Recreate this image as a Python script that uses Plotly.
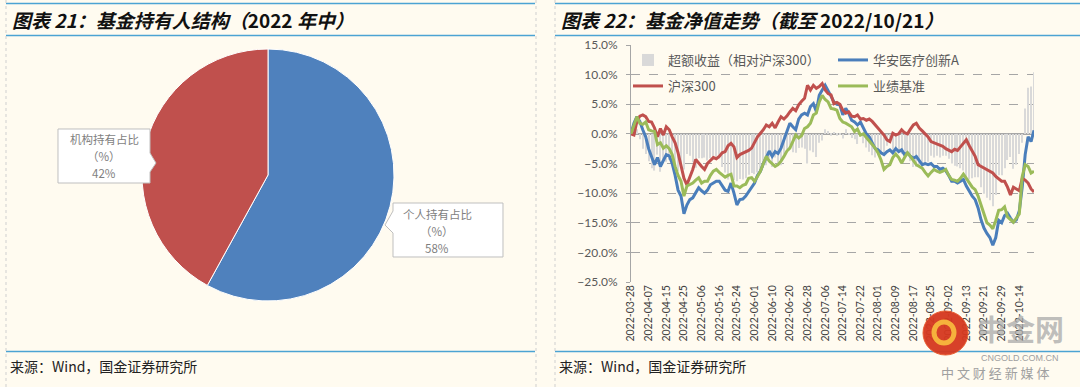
import plotly.graph_objects as go
import pandas as pd

W, H = 1080, 387
BG = "#FFFBF0"

# ---------------- data: left pie ----------------
PIE_LABELS = ["个人持有占比（%）", "机构持有占比（%）"]
PIE_VALUES = [58, 42]
PIE_COLORS = ["#4F81BD", "#C0504D"]

# ---------------- data: right line chart ----------------
HOLIDAYS = ["2022-04-04", "2022-04-05", "2022-05-02", "2022-05-03", "2022-05-04",
            "2022-06-03", "2022-09-12", "2022-10-03", "2022-10-04", "2022-10-05",
            "2022-10-06", "2022-10-07"]
DATES = [d.strftime("%Y-%m-%d") for d in pd.bdate_range("2022-03-28", "2022-10-21")
         if d.strftime("%Y-%m-%d") not in HOLIDAYS]

TICK_LABELS = ["2022-03-28", "2022-04-07", "2022-04-15", "2022-04-25", "2022-05-06",
               "2022-05-16", "2022-05-24", "2022-06-01", "2022-06-10", "2022-06-20",
               "2022-06-28", "2022-07-06", "2022-07-14", "2022-07-22", "2022-08-01",
               "2022-08-09", "2022-08-17", "2022-08-25", "2022-09-02", "2022-09-13",
               "2022-09-21", "2022-09-29", "2022-10-14"]

FUND = [0.0, 1.8, 2.9, 2.1, 0.7, -0.5, -2.5, -3.8, -5.2, -4.0,
        -5.5, -4.5, -3.5, -3.7, -5.0, -7.0, -9.5, -10.5, -13.5, -12.0,
        -11.1, -10.8, -10.0, -9.1, -9.6, -10.0, -9.5, -8.6, -8.3, -8.0,
        -8.0, -8.8, -9.5, -9.7, -8.3, -10.0, -12.0, -11.1, -11.0, -10.5,
        -9.7, -9.0, -8.3, -7.0, -6.3, -5.0, -3.8, -2.9, -3.8, -3.0,
        -3.3, -2.4, -1.0, 0.4, 1.8, 1.2, 0.7, 2.5, 3.2, 3.5,
        3.2, 4.6, 5.1, 3.8, 6.5, 7.4, 8.2, 7.3, 6.3, 5.4,
        5.0, 4.9, 3.2, 4.3, 3.5, 2.3, 2.0, 1.5, 2.0, 1.0,
        0.0, -0.5, -1.5, -2.5, -2.7, -3.2, -3.5, -3.0, -2.7, -3.2,
        -2.5, -3.0, -2.7, -3.5, -3.2, -3.8, -4.1, -3.8, -4.5, -5.2,
        -5.0, -5.2, -5.0, -5.5, -5.5, -6.0, -5.8, -6.2, -7.0, -8.0,
        -8.0, -8.3, -8.0, -7.7, -8.8, -9.7, -10.5, -11.1, -12.5, -14.5,
        -15.9, -16.8, -17.5, -18.8, -17.5, -14.6, -15.0, -13.8, -13.4, -14.2,
        -14.9, -14.5, -13.0, -9.0, -3.5, -0.5, -1.3, 0.6]

HS300 = [0.0, -0.2, 2.1, 3.0, 3.2, 2.9, 2.1, 2.0, 1.0, -0.5,
         0.9, -0.2, 1.2, 0.7, -0.5, -1.5, -3.2, -5.5, -7.5, -8.6,
         -7.4, -6.0, -4.3, -5.0, -5.5, -6.0, -5.0, -4.5, -4.0, -4.2,
         -3.8, -3.2, -3.0, -2.0, -1.6, -2.2, -4.0, -3.5, -3.3, -3.0,
         -2.8, -2.4, -1.5, -0.5, 0.1, 0.7, 1.5, 1.2, 1.8, 1.0,
         2.0, 2.9, 2.5, 3.0, 3.7, 4.3, 3.9, 4.9, 5.5, 6.0,
         8.2, 7.4, 8.2, 7.7, 8.0, 8.5, 7.4, 6.8, 6.6, 5.1,
         5.3, 5.0, 4.0, 3.5, 3.7, 3.0, 2.9, 3.2, 2.5, 2.6,
         2.3, 2.5, 2.1, 1.5, 0.9, 0.3, -0.2, -1.0, -1.3, 0.1,
         -0.2, 0.0, 0.7, 0.2, 0.0, 0.8, 1.5, 1.8, 1.0, 0.5,
         0.0, -0.5, -1.3, -1.5, -1.8, -2.0, -2.1, -2.5, -2.8, -3.0,
         -2.6, -2.8, -2.2, -1.5, -1.0, -2.0, -3.0, -3.8, -5.2, -5.5,
         -5.8, -6.0, -6.3, -6.6, -7.2, -7.6, -8.0, -8.0, -9.0, -10.3,
         -9.0, -9.3, -9.6, -7.5, -7.8, -8.3, -9.3, -9.8]

BENCH = [0.0, 1.5, 2.9, 1.8, 1.6, 2.0, 0.7, 0.5, 0.4, -1.8,
         -1.5, -2.4, -2.0, -2.5, -3.5, -5.5, -7.0, -8.0, -10.5, -8.8,
         -8.5, -8.3, -7.8, -7.4, -8.3, -8.0, -8.0, -7.0, -6.3, -6.0,
         -6.5, -6.9, -7.3, -7.0, -6.8, -8.8, -8.8, -9.1, -8.7, -8.5,
         -7.5, -7.4, -8.0, -7.2, -6.3, -5.0, -3.8, -4.6, -5.0, -5.5,
         -5.2, -4.6, -3.8, -2.9, -2.4, -1.3, -0.2, -0.7, -0.3, 0.9,
         1.2, 1.8, 3.2, 3.5, 5.4, 6.5, 5.8, 5.4, 4.3, 4.2,
         4.0, 2.6, 2.0, 1.8, 1.5, 1.2, 0.4, 0.8, -0.2, 0.0,
         -0.6, -1.3, -1.8, -2.4, -3.2, -4.4, -6.0, -5.5, -5.2, -4.0,
         -3.4, -4.0, -4.9, -4.0, -3.2, -3.8, -4.5, -5.2, -5.5, -5.8,
         -6.5, -7.1, -6.5, -6.0, -6.3, -6.5, -6.3, -6.0, -7.0, -7.7,
         -7.8, -8.0, -7.5, -6.8, -7.5, -8.3, -9.0, -9.4, -10.5, -12.0,
         -13.5, -15.0, -15.4, -16.0, -14.6, -12.9, -12.8, -12.3, -14.0, -14.5,
         -14.9, -14.2, -13.5, -7.2, -5.2, -5.5, -6.6, -6.3]

EXCESS = [0.0, 2.0, 0.8, -0.9, -2.5, -3.4, -4.6, -5.8, -6.2, -3.5,
          -6.4, -4.3, -4.7, -4.4, -4.5, -5.5, -6.3, -5.0, -6.0, -3.4,
          -3.7, -4.8, -5.7, -4.1, -4.1, -4.0, -4.5, -4.1, -4.3, -3.8,
          -4.2, -5.6, -6.5, -7.7, -6.7, -7.8, -8.0, -7.6, -7.7, -7.5,
          -6.9, -6.6, -6.8, -6.5, -6.4, -5.7, -5.3, -4.1, -5.6, -4.0,
          -5.3, -5.3, -3.5, -2.6, -1.9, -3.1, -3.2, -2.4, -2.3, -2.5,
          -5.0, -2.8, -3.1, -3.9, -1.5, -1.1, 0.8, 0.5, -0.3, 0.3,
          -0.3, -0.1, -0.8, 0.8, -0.2, -0.7, -0.9, -1.7, -0.5, -1.6,
          -2.3, -3.0, -3.6, -4.0, -3.6, -3.5, -3.3, -2.0, -1.4, -3.3,
          -2.3, -3.0, -3.4, -3.7, -3.2, -4.6, -5.6, -5.6, -5.5, -5.7,
          -5.0, -4.7, -3.7, -4.0, -3.7, -4.0, -3.7, -3.7, -4.2, -5.0,
          -5.4, -5.5, -5.8, -6.2, -7.8, -7.7, -7.5, -7.3, -7.3, -9.0,
          -10.1, -10.8, -11.2, -12.2, -10.3, -7.0, -7.0, -5.8, -4.4, -3.9,
          -5.9, -5.2, -3.4, -1.5, 4.3, 7.8, 8.0, 10.4]

SERIES_NAMES = ["超额收益（相对沪深300）", "华安医疗创新A", "沪深300", "业绩基准"]
SERIES_COLORS = ["#D9D9D9", "#4A7EBB", "#C0504D", "#9BBB59"]

assert len(DATES) == len(FUND) == len(HS300) == len(BENCH) == len(EXCESS)


def px(x):
    return x / W


def py(y):
    return 1 - y / H


CJK = "Noto Sans CJK SC"
LAT = "Lato, Noto Sans CJK SC"

fig = go.Figure()

# ---- pie ----
PC_X, PC_Y, PR = 268, 175, 126
fig.add_trace(go.Pie(
    values=PIE_VALUES, labels=PIE_LABELS, sort=False, direction="clockwise", rotation=0,
    marker=dict(colors=PIE_COLORS, line=dict(color="#FFFFFF", width=1)),
    textinfo="none", hoverinfo="label+value", showlegend=False,
    domain=dict(x=[px(PC_X - PR), px(PC_X + PR)], y=[py(PC_Y + PR), py(PC_Y - PR)]),
))

# ---- line chart ----
fig.add_trace(go.Bar(x=DATES, y=EXCESS, name=SERIES_NAMES[0],
                     marker=dict(color=SERIES_COLORS[0], line=dict(width=0)), legend="legend"))
fig.add_trace(go.Scatter(x=DATES, y=FUND, name=SERIES_NAMES[1], mode="lines",
                         line=dict(color=SERIES_COLORS[1], width=3), legend="legend2"))
fig.add_trace(go.Scatter(x=DATES, y=HS300, name=SERIES_NAMES[2], mode="lines",
                         line=dict(color=SERIES_COLORS[2], width=3), legend="legend3"))
fig.add_trace(go.Scatter(x=DATES, y=BENCH, name=SERIES_NAMES[3], mode="lines",
                         line=dict(color=SERIES_COLORS[3], width=3), legend="legend4"))

GRID = "#A6A6A6"
fig.update_layout(
    width=W, height=H, margin=dict(l=0, r=0, t=0, b=0, autoexpand=False),
    paper_bgcolor=BG, plot_bgcolor="rgba(0,0,0,0)",
    bargap=0.62,
    xaxis=dict(type="category", domain=[px(631), px(1034)], range=[0, len(DATES) - 1],
               tickmode="array", tickvals=TICK_LABELS, ticktext=TICK_LABELS, automargin=False,
               tickangle=-90, tickfont=dict(family=LAT, size=10.5, color="#404040"),
               showgrid=False, showline=False, ticks="", zeroline=False),
    yaxis=dict(domain=[py(282), py(45)], range=[-25, 15], dtick=5, tick0=0, automargin=False,
               tickformat=".1f", ticksuffix="%",
               tickfont=dict(family=LAT, size=12, color="#595959"),
               showgrid=True, gridcolor=GRID, griddash="dash", gridwidth=1,
               zeroline=True, zerolinecolor=GRID, zerolinewidth=1.5,
               showline=True, linecolor=GRID, linewidth=1,
               ticks="outside", ticklen=4, tickcolor=GRID, ticklabelstandoff=6),
)

leg_common = dict(xanchor="left", yanchor="middle", bgcolor="rgba(0,0,0,0)",
                  font=dict(family=CJK, size=13, color="#595959"), itemwidth=30)
fig.update_layout(
    legend=dict(x=px(628), y=py(60), **leg_common),
    legend2=dict(x=px(833), y=py(60), **leg_common),
    legend3=dict(x=px(628), y=py(86), **leg_common),
    legend4=dict(x=px(833), y=py(86), **leg_common),
)

# ---- frame lines ----
BLUE_LINE = "#4BA3D3"
shapes = []
for (x0, x1) in [(6, 535), (555, 1080)]:
    for yy in [3.5, 35.5, 351.5]:
        shapes.append(dict(type="line", xref="paper", yref="paper", x0=px(x0), x1=px(x1),
                           y0=py(yy), y1=py(yy), line=dict(color=BLUE_LINE, width=1.5)))
for xx in [6, 536, 555]:
    shapes.append(dict(type="line", xref="paper", yref="paper", x0=px(xx), x1=px(xx),
                       y0=0, y1=1, line=dict(color="#CFCFCF", width=1, dash="dot")))


def path(points):
    return "M" + " L".join(f"{px(a):.5f},{py(b):.5f}" for a, b in points) + " Z"


# callout boxes
shapes.append(dict(type="path", xref="paper", yref="paper",
                   path=path([(58, 129), (150, 129), (150, 153), (156, 163), (150, 172), (150, 183), (58, 183)]),
                   fillcolor="#FFFFFF", line=dict(color="#BFBFBF", width=1)))
shapes.append(dict(type="path", xref="paper", yref="paper",
                   path=path([(393, 203), (503, 203), (503, 257), (393, 257), (393, 233), (385, 225), (393, 211)]),
                   fillcolor="#FFFFFF", line=dict(color="#BFBFBF", width=1)))

# watermark logo
shapes.append(dict(type="circle", xref="paper", yref="paper", x0=px(923), x1=px(968), y0=py(355), y1=py(311),
                   fillcolor="#D5381F", line=dict(color="#E8572A", width=1), opacity=0.95))
shapes.append(dict(type="circle", xref="paper", yref="paper", x0=px(934), x1=px(954), y0=py(343), y1=py(322),
                   fillcolor="rgba(0,0,0,0)", line=dict(color="#F6B23C", width=5)))
fig.update_layout(shapes=shapes)

ann = []
ann.append(dict(x=px(10), y=py(19), xref="paper", yref="paper", xanchor="left", yanchor="middle", showarrow=False,
                text="<b><i>图表 21：基金持有人结构（</i>2022<i> 年中）</i></b>",
                font=dict(family=CJK, size=19, color="#111111")))
ann.append(dict(x=px(559), y=py(19), xref="paper", yref="paper", xanchor="left", yanchor="middle", showarrow=False,
                text="<b><i>图表 22：基金净值走势（截至 </i>2022/10/21<i>）</i></b>",
                font=dict(family=CJK, size=19, color="#111111")))
for xx in [8, 557]:
    ann.append(dict(x=px(xx), y=py(366), xref="paper", yref="paper", xanchor="left", yanchor="middle",
                    showarrow=False, text="来源：Wind，国金证券研究所",
                    font=dict(family=CJK, size=14, color="#222222")))

# callout texts (one annotation per line)
for txt, xx, yy in [("机构持有占比", 104, 139), ("（%）", 104, 156), (f"{PIE_VALUES[1]}%", 104, 173),
                    ("个人持有占比", 437, 214), ("（%）", 437, 231), (f"{PIE_VALUES[0]}%", 437, 248)]:
    ann.append(dict(x=px(xx), y=py(yy), xref="paper", yref="paper", xanchor="center", yanchor="middle",
                    showarrow=False, text=txt, borderpad=0,
                    font=dict(family=CJK, size=11.5, color="#7F7F7F")))

# watermark text
ann.append(dict(x=px(1020), y=py(328), xref="paper", yref="paper", xanchor="center", yanchor="middle",
                showarrow=False, text="<b>中金网</b>", font=dict(family=CJK, size=29, color="rgba(170,170,170,0.75)")))
ann.append(dict(x=px(1020), y=py(358), xref="paper", yref="paper", xanchor="center", yanchor="middle",
                showarrow=False, text="CNGOLD.COM.CN", font=dict(family="Liberation Sans", size=9, color="#A0A0A0")))
ann.append(dict(x=px(995), y=py(372), xref="paper", yref="paper", xanchor="center", yanchor="middle",
                showarrow=False, text="中 文 财 经 新 媒 体", font=dict(family=CJK, size=13, color="#A0A0A0")))
fig.update_layout(annotations=ann)

fig.write_html("out.html", config={"displayModeBar": False},
               post_script="document.body.style.margin='0';document.body.style.background='%s';" % BG)
